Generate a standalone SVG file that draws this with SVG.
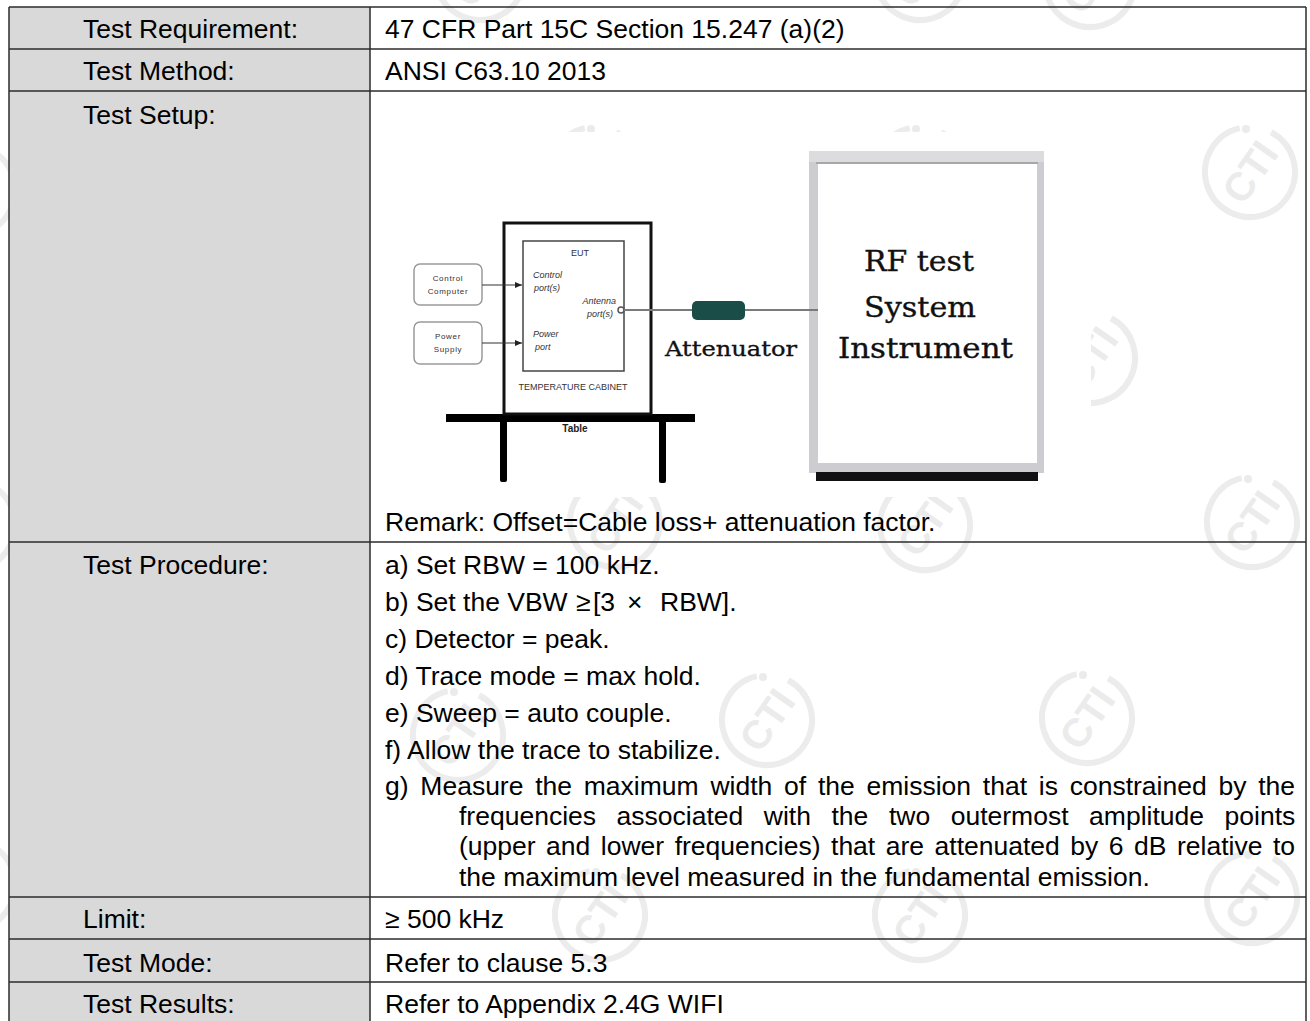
<svg xmlns="http://www.w3.org/2000/svg" width="1310" height="1021" viewBox="0 0 1310 1021">
<style>
.t{font-family:"Liberation Sans",Arial,sans-serif;font-size:26.5px;fill:#000}
.s{font-family:"Liberation Sans",Arial,sans-serif;font-size:9px;fill:#333}
.sb{font-family:"Liberation Sans",Arial,sans-serif;font-size:8px;fill:#333;letter-spacing:0.7px}
.i{font-style:italic}
.sf{font-family:"DejaVu Serif","Liberation Serif",serif;fill:#111;stroke:#111;stroke-width:0.35}
.grid{stroke:#2b2b2b;stroke-width:1.5;fill:none}
.wmr{fill:none;stroke:#ececec;stroke-width:6}
.wmt{font-family:"Liberation Sans",Arial,sans-serif;font-weight:bold;font-size:40px;fill:#ebebeb}
.box{fill:#fff;stroke:#9a9a9a;stroke-width:1.5}
.wire{stroke:#333;stroke-width:1.2;fill:none}
.cable{stroke:#7a7a7a;stroke-width:2;fill:none}
</style>
<defs>
<g id="wm">
<circle class="wmr" r="45" stroke-dasharray="250 33" transform="rotate(-62)"/>
<circle cx="-4" cy="-43" r="4" fill="#ebebeb"/>
<text class="wmt" text-anchor="middle" y="14" transform="rotate(-55)">CTI</text>
</g>
<marker id="arr" markerWidth="8" markerHeight="8" refX="7" refY="4" orient="auto" markerUnits="userSpaceOnUse">
<path d="M0,1 L7,4 L0,7 Z" fill="#222"/>
</marker>
</defs>
<rect x="0" y="0" width="1310" height="1021" fill="#fff"/>

<g id="watermarks">
<use href="#wm" x="480" y="-25"/>
<use href="#wm" x="920" y="-25"/>
<use href="#wm" x="1090" y="-18"/>
<use href="#wm" x="595" y="172"/>
<use href="#wm" x="920" y="172"/>
<use href="#wm" x="1250" y="172"/>
<use href="#wm" x="1090" y="358"/>
<use href="#wm" x="615" y="522"/>
<use href="#wm" x="925" y="525"/>
<use href="#wm" x="1252" y="522"/>
<use href="#wm" x="458" y="735"/>
<use href="#wm" x="767" y="720"/>
<use href="#wm" x="1087" y="718"/>
<use href="#wm" x="600" y="915"/>
<use href="#wm" x="920" y="915"/>
<use href="#wm" x="1252" y="898"/>
<use href="#wm" x="-30" y="190"/>
<use href="#wm" x="-30" y="525"/>
<use href="#wm" x="-30" y="885"/>
</g>

<rect x="9" y="7" width="361" height="1014" fill="#d9d9d9"/>
<rect x="395" y="132" width="696" height="365" fill="#fff"/>

<g id="grid" class="grid">
<line x1="9" y1="7" x2="1306" y2="7"/>
<line x1="9" y1="49" x2="1306" y2="49"/>
<line x1="9" y1="91" x2="1306" y2="91"/>
<line x1="9" y1="542" x2="1306" y2="542"/>
<line x1="9" y1="897" x2="1306" y2="897"/>
<line x1="9" y1="939" x2="1306" y2="939"/>
<line x1="9" y1="982" x2="1306" y2="982"/>
<line x1="9" y1="7" x2="9" y2="1021"/>
<line x1="370" y1="7" x2="370" y2="1021"/>
<line x1="1306" y1="7" x2="1306" y2="1021"/>
</g>

<g id="labels" class="t">
<text x="83" y="37.5">Test Requirement:</text>
<text x="83" y="79.5">Test Method:</text>
<text x="83" y="123.5">Test Setup:</text>
<text x="83" y="573.5">Test Procedure:</text>
<text x="83" y="927.5">Limit:</text>
<text x="83" y="971.5">Test Mode:</text>
<text x="83" y="1012.5">Test Results:</text>
</g>

<g id="values" class="t">
<text x="385" y="37.5">47 CFR Part 15C Section 15.247 (a)(2)</text>
<text x="385" y="79.5">ANSI C63.10 2013</text>
<text x="385" y="530.5">Remark: Offset=Cable loss+ attenuation factor.</text>
<text x="385" y="573.5">a) Set RBW = 100 kHz.</text>
<text y="611"><tspan x="385">b) Set the VBW</tspan><tspan x="576">≥</tspan><tspan x="593">[3</tspan><tspan x="627">×</tspan><tspan x="660">RBW].</tspan></text>
<text x="385" y="648">c) Detector = peak.</text>
<text x="385" y="685">d) Trace mode = max hold.</text>
<text x="385" y="722">e) Sweep = auto couple.</text>
<text x="385" y="758.5">f) Allow the trace to stabilize.</text>
<text x="385" y="794.5" word-spacing="4.4">g) Measure the maximum width of the emission that is constrained by the</text>
<text x="459" y="824.5" word-spacing="13.2">frequencies associated with the two outermost amplitude points</text>
<text x="459" y="855" word-spacing="3.15">(upper and lower frequencies) that are attenuated by 6 dB relative to</text>
<text x="459" y="885.5">the maximum level measured in the fundamental emission.</text>
<text x="385" y="927.5">≥ 500 kHz</text>
<text x="385" y="971.5">Refer to clause 5.3</text>
<text x="385" y="1012.5">Refer to Appendix 2.4G WIFI</text>
</g>

<g id="table-stand">
<rect x="446" y="414" width="249" height="8" fill="#000"/>
<rect x="500" y="420" width="7" height="62" rx="2" fill="#000"/>
<rect x="659" y="420" width="7" height="63" rx="2" fill="#000"/>
<text x="575" y="432" text-anchor="middle" font-family="Liberation Sans, Arial, sans-serif" font-size="10" font-weight="bold" fill="#222">Table</text>
</g>

<g id="cabinet">
<rect x="504" y="223" width="147" height="191" fill="none" stroke="#111" stroke-width="3"/>
<text class="s" x="573" y="390" text-anchor="middle">TEMPERATURE CABINET</text>
</g>

<g id="eut">
<rect x="523" y="241" width="101" height="130" fill="#fff" stroke="#444" stroke-width="1.5"/>
<text class="s" x="580" y="256" text-anchor="middle">EUT</text>
<text class="s i" x="533" y="278">Control</text>
<text class="s i" x="534" y="291">port(s)</text>
<text class="s i" x="616" y="304" text-anchor="end">Antenna</text>
<text class="s i" x="613" y="317" text-anchor="end">port(s)</text>
<text class="s i" x="533" y="337">Power</text>
<text class="s i" x="535" y="350">port</text>
<circle cx="621" cy="310" r="3" fill="#fff" stroke="#555" stroke-width="1.5"/>
</g>

<g id="control-computer">
<rect class="box" x="414" y="264" width="68" height="41" rx="6"/>
<text class="sb" x="448" y="281" text-anchor="middle">Control</text>
<text class="sb" x="448" y="294" text-anchor="middle">Computer</text>
</g>

<g id="power-supply">
<rect class="box" x="414" y="322" width="68" height="42" rx="6"/>
<text class="sb" x="448" y="339" text-anchor="middle">Power</text>
<text class="sb" x="448" y="352" text-anchor="middle">Supply</text>
</g>

<g id="attenuator">
<rect x="692" y="301" width="53" height="19" rx="5" fill="#1a4d47"/>
<text class="sf" x="665" y="356" font-size="21" textLength="132" lengthAdjust="spacingAndGlyphs">Attenuator</text>
</g>

<g id="rf-instrument">
<rect x="809" y="151" width="235" height="322" fill="#cdcdd1"/>
<rect x="809" y="151" width="235" height="11" fill="#dcdcde"/>
<line x1="816" y1="163" x2="1038" y2="163" stroke="#9a9a9a" stroke-width="1.5"/>
<rect x="818" y="164" width="219" height="299" fill="#fff"/>
<rect x="816" y="472" width="222" height="9" fill="#111"/>
<text class="sf" x="864" y="271" font-size="27" textLength="110" lengthAdjust="spacingAndGlyphs">RF test</text>
<text class="sf" x="864" y="317" font-size="27" textLength="112" lengthAdjust="spacingAndGlyphs">System</text>
<text class="sf" x="838" y="358" font-size="27" textLength="175" lengthAdjust="spacingAndGlyphs">Instrument</text>
</g>

<g id="connectors">
<line class="wire" x1="482" y1="285" x2="522" y2="285" marker-end="url(#arr)"/>
<line class="wire" x1="482" y1="343" x2="522" y2="343" marker-end="url(#arr)"/>
<line class="cable" x1="624" y1="310" x2="692" y2="310"/>
<line class="cable" x1="745" y1="310" x2="818" y2="310"/>
</g>
</svg>
